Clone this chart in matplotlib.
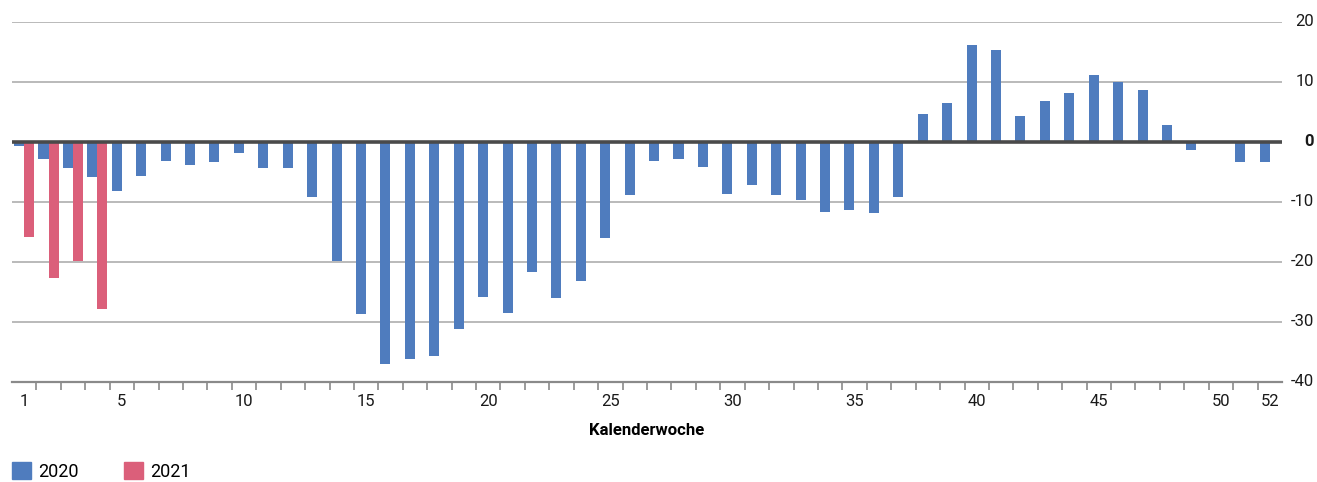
import matplotlib
matplotlib.use("Agg")
import matplotlib.pyplot as plt
import matplotlib.transforms as mtransforms
import numpy as np
from matplotlib.patches import Patch

# weekly values
weeks = np.arange(1, 53)
values_2020 = [
    -0.6, -2.9, -4.3, -5.8, -8.1, -5.6, -3.1, -3.9, -3.3, -1.8,
    -4.4, -4.3, -9.2, -19.8, -28.7, -37.0, -36.2, -35.7, -31.1, -25.8,
    -28.5, -21.7, -26.0, -23.2, -16.0, -8.9, -3.1, -2.9, -4.1, -8.7,
    -7.1, -8.9, -9.6, -11.7, -11.4, -11.9, -9.1, 4.7, 6.5, 16.2,
    15.4, 4.3, 6.8, 8.1, 11.1, 10.0, 8.6, 2.9, -1.3, 0.0,
    -3.3, -3.3,
]
weeks_2021 = [1, 2, 3, 4]
values_2021 = [-15.9, -22.6, -19.9, -27.9]
week_labels = [1, 5, 10, 15, 20, 25, 30, 35, 40, 45, 50, 52]
y_ticks = [20, 10, 0, -10, -20, -30, -40]

blue = "#4f7cbe"
red = "#db5f7a"
grid_color = "#b4b4b4"

plt.rcParams['font.family'] = ['Roboto', 'DejaVu Sans']

fig = plt.figure(figsize=(13.17, 4.82), dpi=100)
ax = fig.add_axes([12 / 1317, 100 / 482, 1270 / 1317, 360 / 482])

ax.bar(weeks - 0.21, values_2020, width=0.41, color=blue, zorder=3)
ax.bar(np.array(weeks_2021) + 0.2, values_2021, width=0.41, color=red, zorder=3)

ax.set_xlim(0.5, 52.5)
ax.set_ylim(-40, 20)

# grid
for y in y_ticks:
    if y == 0:
        ax.axhline(0, color="#4a4a4a", lw=2.6, zorder=4)
    else:
        ax.axhline(y, color=grid_color, lw=1.3, zorder=1)

for side in ["top", "left", "right", "bottom"]:
    ax.spines[side].set_visible(False)
ax.spines["bottom"].set_visible(True)
ax.spines["bottom"].set_color("#8a8a8a")
ax.spines["bottom"].set_linewidth(1.6)

# x ticks: labels at centers, tick marks between categories
ax.set_xticks(week_labels)
ax.set_xticklabels([str(w) for w in week_labels], fontsize=12)
ax.set_xticks(np.arange(1.5, 52, 1), minor=True)
ax.tick_params(axis="x", which="major", length=0, pad=9, colors="#1a1a1a")
ax.tick_params(axis="x", which="minor", length=6, width=1.2, color="#8a8a8a")

# y labels on the right, right aligned
ax.set_yticks([])
trans = mtransforms.blended_transform_factory(ax.transAxes, ax.transData)
for y in y_ticks:
    ax.text(1 + 32 / 1270, y, str(y), transform=trans, ha="right", va="center",
            fontsize=12, color="#1a1a1a", fontweight="bold" if y == 0 else "normal",
            clip_on=False)

ax.set_xlabel("Kalenderwoche", fontsize=12, fontweight="bold", labelpad=10)

handles = [Patch(color=blue, label="2020"), Patch(color=red, label="2021")]
fig.legend(handles=handles, loc="lower left", bbox_to_anchor=(12 / 1317, 1 / 482),
           ncol=2, frameon=False, fontsize=13, borderpad=0, borderaxespad=0,
           handlelength=1.05, handleheight=1.05, handletextpad=0.4,
           columnspacing=2.5)

fig.savefig("out.png", dpi=100)
